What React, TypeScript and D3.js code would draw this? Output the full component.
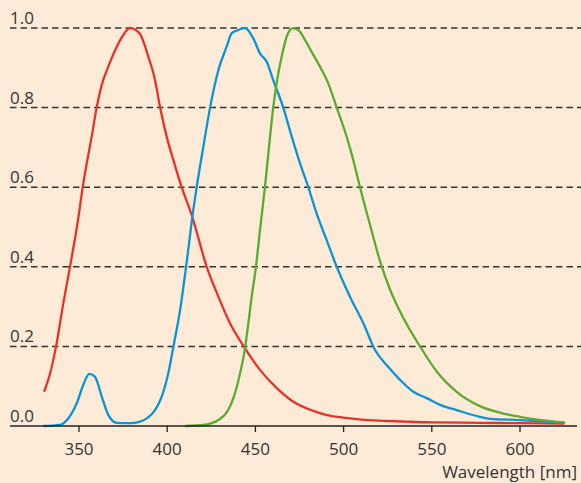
import React from "react";
import * as d3 from "d3";

const W = 581;
const H = 483;

const xTicks = [350, 400, 450, 500, 550, 600];
const yTicks = [0, 0.2, 0.4, 0.6, 0.8, 1.0];
const xLabel = "Wavelength [nm]";

// [wavelength nm, normalized intensity]
const redSeries: [number, number][] = [
  [330.2, 0.086], [333.6, 0.132], [337, 0.2], [341.1, 0.308], [344.9, 0.4],
  [349.6, 0.522], [352.1, 0.6], [354.4, 0.66], [357.2, 0.727], [360, 0.8],
  [362.9, 0.857], [366.6, 0.903], [371.4, 0.953], [375.5, 0.985], [378.9, 1.0],
  [381.8, 0.996], [384.6, 0.985], [389.3, 0.928], [393.1, 0.869], [396, 0.8],
  [399.7, 0.727], [403.5, 0.668], [408.2, 0.6], [413.9, 0.53], [422.4, 0.4],
  [429, 0.325], [435.6, 0.258], [444.1, 0.195], [452.6, 0.141], [462.1, 0.095],
  [471.5, 0.061], [482.8, 0.038], [490, 0.028], [499.8, 0.021], [510, 0.016],
  [522.5, 0.013], [535, 0.011], [550.8, 0.009], [577.3, 0.008], [600, 0.007],
  [625, 0.006],
];

const blueSeries: [number, number][] = [
  [329.8, 0.0], [339.2, 0.003], [343.9, 0.019], [348.7, 0.057], [352.4, 0.103],
  [355.8, 0.131], [359, 0.124], [362.9, 0.074], [366.6, 0.028], [371.4, 0.008],
  [378.9, 0.007], [384.6, 0.011], [388.4, 0.019], [393.1, 0.04], [396.9, 0.074],
  [400.6, 0.132], [403.5, 0.199], [407.3, 0.291], [410.7, 0.4], [414.8, 0.543],
  [416.7, 0.6], [420.5, 0.702], [424.3, 0.8], [429, 0.894], [433.7, 0.953],
  [436.6, 0.987], [440.3, 0.995], [444.1, 1.0], [448.8, 0.974], [452.6, 0.936],
  [456.4, 0.915], [460.1, 0.869], [465.8, 0.8], [470.6, 0.727], [475.3, 0.66],
  [480, 0.6], [484.7, 0.534], [490.4, 0.467], [496.1, 0.4], [503.6, 0.325],
  [511.2, 0.258], [517.8, 0.191], [524.4, 0.153], [532, 0.116], [539.5, 0.086],
  [547.1, 0.07], [554.6, 0.053], [564.1, 0.04], [577.3, 0.023], [583, 0.018],
  [600, 0.015], [615, 0.011], [625.5, 0.007],
];

const greenSeries: [number, number][] = [
  [410.1, 0.0], [420.5, 0.0025], [429, 0.015], [434.6, 0.04], [438.4, 0.082],
  [441.3, 0.132], [444.1, 0.195], [446, 0.258], [447.9, 0.325], [450.3, 0.4],
  [452.6, 0.492], [455.4, 0.6], [458.3, 0.727], [460.1, 0.8], [462, 0.861],
  [464.9, 0.928], [467.7, 0.978], [471.1, 0.999], [474.3, 0.995], [478.1, 0.97],
  [481.9, 0.94], [486.6, 0.903], [491.3, 0.861], [496.1, 0.8], [501.7, 0.727],
  [505.5, 0.668], [509.3, 0.6], [515, 0.505], [520.6, 0.415], [526.3, 0.343],
  [533.8, 0.272], [543.3, 0.2], [552.8, 0.137], [564.1, 0.086], [577.3, 0.05],
  [590, 0.032], [600, 0.023], [612, 0.015], [625.5, 0.009],
];

const series = [
  { data: redSeries, color: "#e63329" },
  { data: blueSeries, color: "#0a94d6" },
  { data: greenSeries, color: "#5aab2e" },
];

export default function App() {
  const x = d3.scaleLinear().domain([350, 600]).range([79, 520]);
  const y = d3.scaleLinear().domain([0, 1]).range([426, 28]);
  const line = d3
    .line<[number, number]>()
    .x((d) => x(d[0]))
    .y((d) => y(d[1]))
    .curve(d3.curveMonotoneX);

  const font = "'Open Sans', 'Noto Sans', sans-serif";
  return (
    <div style={{ position: "fixed", left: 0, top: 0 }}>
      <svg width={W} height={H} style={{ display: "block" }}>
        <rect x={0} y={0} width={W} height={H} fill="#fdebd7" />
        {yTicks.map((t) => (
          <g key={t}>
            {t > 0 && (
              <line
                x1={10}
                x2={W}
                y1={y(t)}
                y2={y(t)}
                stroke="#333"
                strokeWidth={1.5}
                strokeDasharray="6.5,4"
              />
            )}
            <text
              x={10}
              y={y(t) - 4}
              fontFamily={font}
              fontSize={17}
              fill="#333"
            >
              {t.toFixed(1)}
            </text>
          </g>
        ))}
        {series.map((s, i) => (
          <path
            key={i}
            d={line(s.data) || ""}
            fill="none"
            stroke={s.color}
            strokeWidth={2.3}
            strokeLinejoin="round"
          />
        ))}
        <line x1={10} x2={577} y1={y(0)} y2={y(0)} stroke="#222" strokeWidth={1.5} />
        {xTicks.map((t) => (
          <g key={t}>
            <line x1={x(t)} x2={x(t)} y1={y(0)} y2={y(0) + 6} stroke="#222" strokeWidth={1.3} />
            <text
              x={x(t)}
              y={455}
              textAnchor="middle"
              fontFamily={font}
              fontSize={17}
              fill="#333"
            >
              {t}
            </text>
          </g>
        ))}
        <text
          x={577}
          y={478}
          textAnchor="end"
          fontFamily={font}
          fontSize={17}
          fill="#333"
        >
          {xLabel}
        </text>
      </svg>
    </div>
  );
}
